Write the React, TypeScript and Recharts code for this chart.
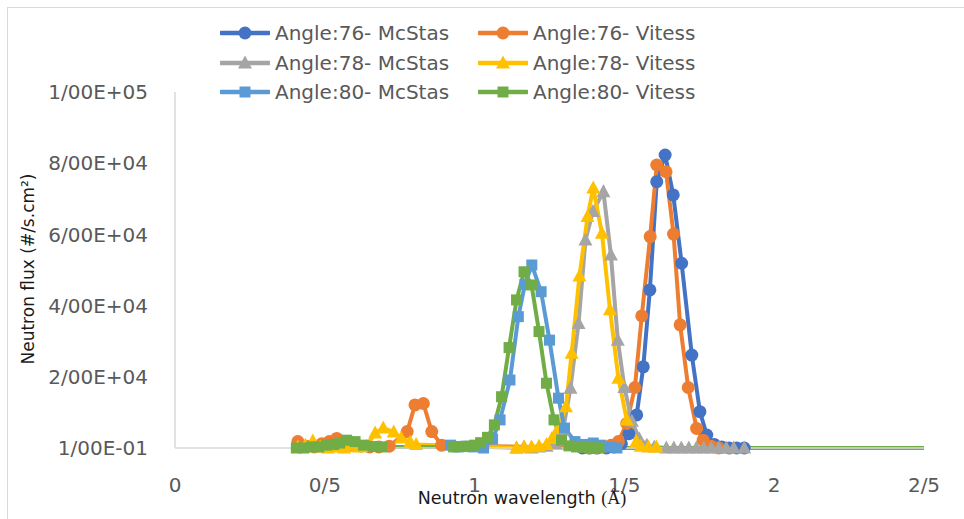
import React from "react";
import { Line, LineChart, XAxis, YAxis } from "recharts";

type Pair = [number, number];
type MarkerKind = "circle" | "triangle" | "square";

const X_TICKS = [0, 0.5, 1, 1.5, 2, 2.5];
const X_TICK_LABELS = ["0", "0/5", "1", "1/5", "2", "2/5"];
const Y_TICKS = [0.1, 20000, 40000, 60000, 80000, 100000];
const Y_TICK_LABELS = ["1/00E-01", "2/00E+04", "4/00E+04", "6/00E+04", "8/00E+04", "1/00E+05"];

// [wavelength, flux]
const ANGLE76_MCSTAS: Pair[] = [
  [1.36, 0.1], [1.385, 0.1], [1.41, 0.1], [1.44, 0.1], [1.465, 300], [1.49, 1200], [1.515, 4000],
  [1.541, 9300], [1.563, 22800], [1.585, 44400], [1.608, 74800], [1.636, 82300], [1.663, 71100],
  [1.691, 51900], [1.725, 26100], [1.752, 10200], [1.775, 3650], [1.8, 1000], [1.825, 300],
  [1.85, 0.1], [1.875, 0.1], [1.9, 0.1],
];

const ANGLE76_VITESS: Pair[] = [
  [0.41, 1800], [0.44, 500], [0.465, 300], [0.49, 1200], [0.515, 1800], [0.54, 2700], [0.565, 1500],
  [0.59, 800], [0.62, 500], [0.65, 300], [0.68, 300], [0.715, 500], [0.775, 4600], [0.801, 12100],
  [0.829, 12500], [0.857, 4600], [0.89, 800], [1.38, 0.1], [1.405, 0.1], [1.43, 400], [1.455, 800],
  [1.48, 1800], [1.508, 6900], [1.535, 17000], [1.558, 37100], [1.586, 59400], [1.608, 79500],
  [1.639, 77600], [1.664, 60100], [1.686, 34600], [1.713, 17000], [1.741, 5500], [1.763, 2200],
  [1.79, 500], [1.815, 0.1],
];

const ANGLE78_MCSTAS: Pair[] = [
  [1.14, 0.1], [1.165, 300], [1.19, 0.1], [1.215, 300], [1.24, 500], [1.27, 1200], [1.295, 5000],
  [1.32, 16800], [1.347, 35000], [1.37, 58400], [1.395, 66400], [1.43, 72000], [1.455, 54200],
  [1.478, 30300], [1.5, 17000], [1.525, 7500], [1.55, 2500], [1.575, 800], [1.6, 300], [1.64, 0.1],
  [1.665, 0.1], [1.69, 0.1], [1.715, 0.1], [1.74, 0.1], [1.765, 0.1], [1.79, 0.1], [1.815, 0.1],
  [1.84, 0.1], [1.865, 0.1], [1.9, 0.1],
];

const ANGLE78_VITESS: Pair[] = [
  [0.41, 300], [0.435, 800], [0.46, 2000], [0.485, 300], [0.51, 0.1], [0.54, 300], [0.565, 0.1],
  [0.59, 800], [0.615, 300], [0.64, 500], [0.668, 4200], [0.695, 5600], [0.73, 4500], [0.755, 2800],
  [0.785, 1700], [0.805, 1000], [1.14, 0.1], [1.165, 300], [1.19, 300], [1.215, 500], [1.24, 1000],
  [1.258, 2700], [1.279, 5500], [1.305, 11600], [1.324, 26600], [1.35, 48300], [1.377, 65000],
  [1.396, 73000], [1.425, 60300], [1.452, 38800], [1.48, 19600], [1.508, 7900], [1.54, 1800],
  [1.555, 500], [1.58, 300], [1.607, 300],
];

const ANGLE80_MCSTAS: Pair[] = [
  [0.92, 800], [0.945, 300], [0.97, 500], [0.995, 300], [1.03, 0.1], [1.06, 2500], [1.085, 7900],
  [1.118, 19100], [1.146, 36900], [1.168, 46000], [1.191, 51400], [1.222, 43900], [1.25, 30300],
  [1.28, 14000], [1.3, 5600], [1.335, 1800], [1.36, 1000], [1.396, 1400], [1.42, 800], [1.45, 300],
  [1.475, 0.1],
];

const ANGLE80_VITESS: Pair[] = [
  [0.405, 0.1], [0.43, 0.1], [0.455, 300], [0.48, 300], [0.506, 800], [0.53, 1000], [0.55, 1400],
  [0.573, 2200], [0.601, 1800], [0.629, 800], [0.662, 400], [0.69, 300], [0.93, 300], [0.955, 400],
  [0.98, 500], [1.0, 800], [1.02, 1500], [1.043, 3000], [1.066, 6500], [1.09, 14400], [1.115, 28200],
  [1.14, 41600], [1.165, 49500], [1.19, 45800], [1.215, 32700], [1.24, 18200], [1.265, 7900],
  [1.29, 2200], [1.315, 600], [1.34, 300], [1.365, 200], [1.39, 100], [1.415, 0.1], [2.5, 0.1],
];

const SERIES = [
  { name: "Angle:76- McStas", color: "#4472C4", marker: "circle" as MarkerKind, data: ANGLE76_MCSTAS },
  { name: "Angle:76- Vitess", color: "#ED7D31", marker: "circle" as MarkerKind, data: ANGLE76_VITESS },
  { name: "Angle:78- McStas", color: "#A5A5A5", marker: "triangle" as MarkerKind, data: ANGLE78_MCSTAS },
  { name: "Angle:78- Vitess", color: "#FFC000", marker: "triangle" as MarkerKind, data: ANGLE78_VITESS },
  { name: "Angle:80- McStas", color: "#5B9BD5", marker: "square" as MarkerKind, data: ANGLE80_MCSTAS },
  { name: "Angle:80- Vitess", color: "#70AD47", marker: "square" as MarkerKind, data: ANGLE80_VITESS },
];

const FONT = '"DejaVu Sans", sans-serif';

function Marker({ kind, cx, cy, color }: { kind: MarkerKind; cx: number; cy: number; color: string }) {
  if (kind === "circle") return <circle cx={cx} cy={cy} r={6.5} fill={color} />;
  if (kind === "triangle")
    return <path d={`M${cx},${cy - 7.5} L${cx + 7},${cy + 5.5} L${cx - 7},${cy + 5.5} Z`} fill={color} />;
  return <rect x={cx - 5.5} y={cy - 5.5} width={11} height={11} fill={color} />;
}

function LegendIcon({ kind, color }: { kind: MarkerKind; color: string }) {
  return (
    <svg width={50} height={20}>
      <line x1={1} y1={10} x2={49} y2={10} stroke={color} strokeWidth={4.5} strokeLinecap="round" />
      <Marker kind={kind} cx={25} cy={10} color={color} />
    </svg>
  );
}

export default function App() {
  const chartData = SERIES.map((s) => ({ ...s, points: s.data.map(([x, y]) => ({ x, y })) }));

  return (
    <div
      style={{
        position: "absolute",
        left: 0,
        top: 0,
        width: 964,
        height: 519,
        overflow: "hidden",
        background: "#fff",
        fontFamily: FONT,
      }}
    >
      <div
        style={{
          position: "absolute",
          left: 7,
          top: 7,
          width: 980,
          height: 540,
          border: "1px solid #d9d9d9",
        }}
      />
      <div style={{ position: "absolute", left: 0, top: 0 }}>
        <LineChart width={964} height={519} margin={{ top: 92, right: 40, bottom: 0, left: 0 }}>
          <XAxis
            dataKey="x"
            type="number"
            domain={[0, 2.5]}
            ticks={X_TICKS}
            tickFormatter={(v: number) => X_TICK_LABELS[X_TICKS.indexOf(v)] ?? String(v)}
            height={71}
            tickLine={false}
            tickMargin={24}
            axisLine={{ stroke: "#d9d9d9", strokeWidth: 1.5 }}
            tick={{ fill: "#595959", fontSize: 20, fontFamily: FONT }}
            allowDuplicatedCategory={false}
          />
          <YAxis
            type="number"
            domain={[0.1, 100000]}
            ticks={Y_TICKS}
            tickFormatter={(v: number) => Y_TICK_LABELS[Y_TICKS.indexOf(v)] ?? String(v)}
            width={175}
            tickLine={false}
            tickMargin={21}
            axisLine={{ stroke: "#d9d9d9", strokeWidth: 1.5 }}
            tick={{ fill: "#595959", fontSize: 20, fontFamily: FONT }}
            interval={0}
          />
          {chartData.map((s) => (
            <Line
              key={s.name}
              data={s.points}
              dataKey="y"
              name={s.name}
              type="linear"
              stroke={s.color}
              strokeWidth={4}
              isAnimationActive={false}
              activeDot={false}
              dot={(p: any) => {
                const key = `${s.name}-${p.index}`;
                if (p.payload && p.payload.x > 2) return <g key={key} />;
                return (
                  <g key={key}>
                    <Marker kind={s.marker} cx={p.cx} cy={p.cy} color={s.color} />
                  </g>
                );
              }}
            />
          ))}
        </LineChart>
      </div>

      {SERIES.map((s, i) => {
        const col = i % 2;
        const row = Math.floor(i / 2);
        return (
          <div
            key={s.name}
            style={{
              position: "absolute",
              left: col === 0 ? 220 : 478,
              top: 33 + row * 29.5 - 15,
              height: 30,
              display: "flex",
              alignItems: "center",
              whiteSpace: "nowrap",
            }}
          >
            <LegendIcon kind={s.marker} color={s.color} />
            <span style={{ marginLeft: 5, fontSize: 20, color: "#595959" }}>{s.name}</span>
          </div>
        );
      })}

      <div
        style={{
          position: "absolute",
          left: 28,
          top: 269,
          transform: "translate(-50%, -50%) rotate(-90deg)",
          whiteSpace: "nowrap",
          fontSize: 17,
          color: "#1a1a1a",
        }}
      >
        Neutron flux (#/s.cm²)
      </div>
      <div
        style={{
          position: "absolute",
          left: 522,
          top: 498,
          transform: "translate(-50%, -50%)",
          whiteSpace: "nowrap",
          fontSize: 17.5,
          color: "#1a1a1a",
        }}
      >
        Neutron wavelength <span style={{ fontFamily: '"Liberation Serif", serif', fontSize: 18 }}>(Å)</span>
      </div>
    </div>
  );
}
